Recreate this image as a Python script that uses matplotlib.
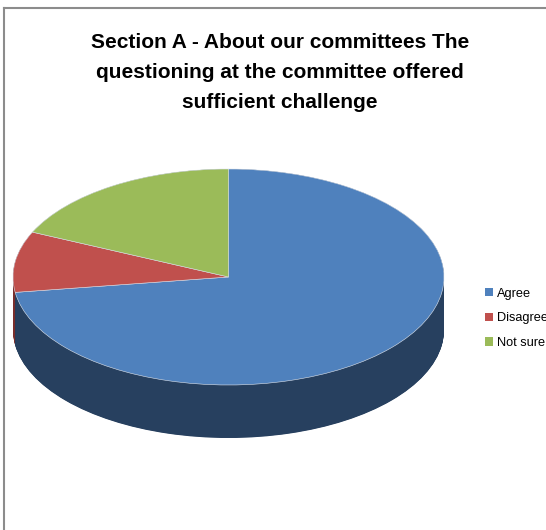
import matplotlib
matplotlib.use("Agg")
import matplotlib.pyplot as plt
from matplotlib.lines import Line2D
import numpy as np

categories = ["Agree", "Disagree", "Not sure"]
responses = [8, 1, 2]
top_colors = ["#4F81BD", "#C0504D", "#9BBB59"]
side_colors = ["#27405F", "#7A2E2C", "#5E7535"]
title_lines = [
    "Section A - About our committees The",
    "questioning at the committee offered",
    "sufficient challenge",
]

W, H = 546, 530
fig = plt.figure(figsize=(W / 100, H / 100), dpi=100)
fig.patch.set_facecolor("white")

# chart area border (top and left edges visible)
fig.add_artist(Line2D([3.5 / W, 1.0], [1 - 8 / H, 1 - 8 / H], color="#8C8C8C", lw=1.5,
                      transform=fig.transFigure))
fig.add_artist(Line2D([3.5 / W, 3.5 / W], [0.0, 1 - 8 / H], color="#8C8C8C", lw=1.5,
                      transform=fig.transFigure))

# pie axes: x spans the ellipse width, y spans top of ellipse to bottom of the rim
left_px, right_px, top_px, bot_px = 13, 444, 169, 438
ry_px = 108.0
depth = 53.0 / ry_px
ax = fig.add_axes([left_px / W, (H - bot_px) / H, (right_px - left_px) / W,
                   (bot_px - top_px) / H])

# rim: stacked darker pies shifted downward
n_layers = 120
for off in np.linspace(-depth, 0, n_layers):
    ax.pie(responses, colors=side_colors, startangle=90, counterclock=False,
           center=(0, off), radius=1.0, frame=False,
           wedgeprops=dict(linewidth=0, antialiased=True))

wedges, _ = ax.pie(responses, colors=top_colors, startangle=90, counterclock=False,
                   center=(0, 0), radius=1.0, frame=False,
                   wedgeprops=dict(linewidth=0.4, edgecolor="#DDE4EE"))

ax.set_aspect("auto")
ax.set_xlim(-1, 1)
ax.set_ylim(1 - (bot_px - top_px) / ry_px, 1)
ax.axis("off")

# title
for i, line in enumerate(title_lines):
    fig.text(280 / W, 1 - (42 + 30 * i) / H, line, ha="center", va="center",
             fontsize=15, fontweight="bold", family="Liberation Sans", color="black")

# legend (long labels run off the right edge of the chart area)
leg = fig.legend(wedges, categories, loc="upper left",
                 bbox_to_anchor=(476 / W, 1 - 279 / H), frameon=False,
                 prop=dict(family="Liberation Sans", size=9.2),
                 handlelength=0.6, handleheight=0.6, handletextpad=0.35,
                 labelspacing=0.98, borderpad=0.2)
for h in leg.legend_handles:
    h.set_linewidth(0)

fig.savefig("out.png", dpi=100, facecolor="white")
